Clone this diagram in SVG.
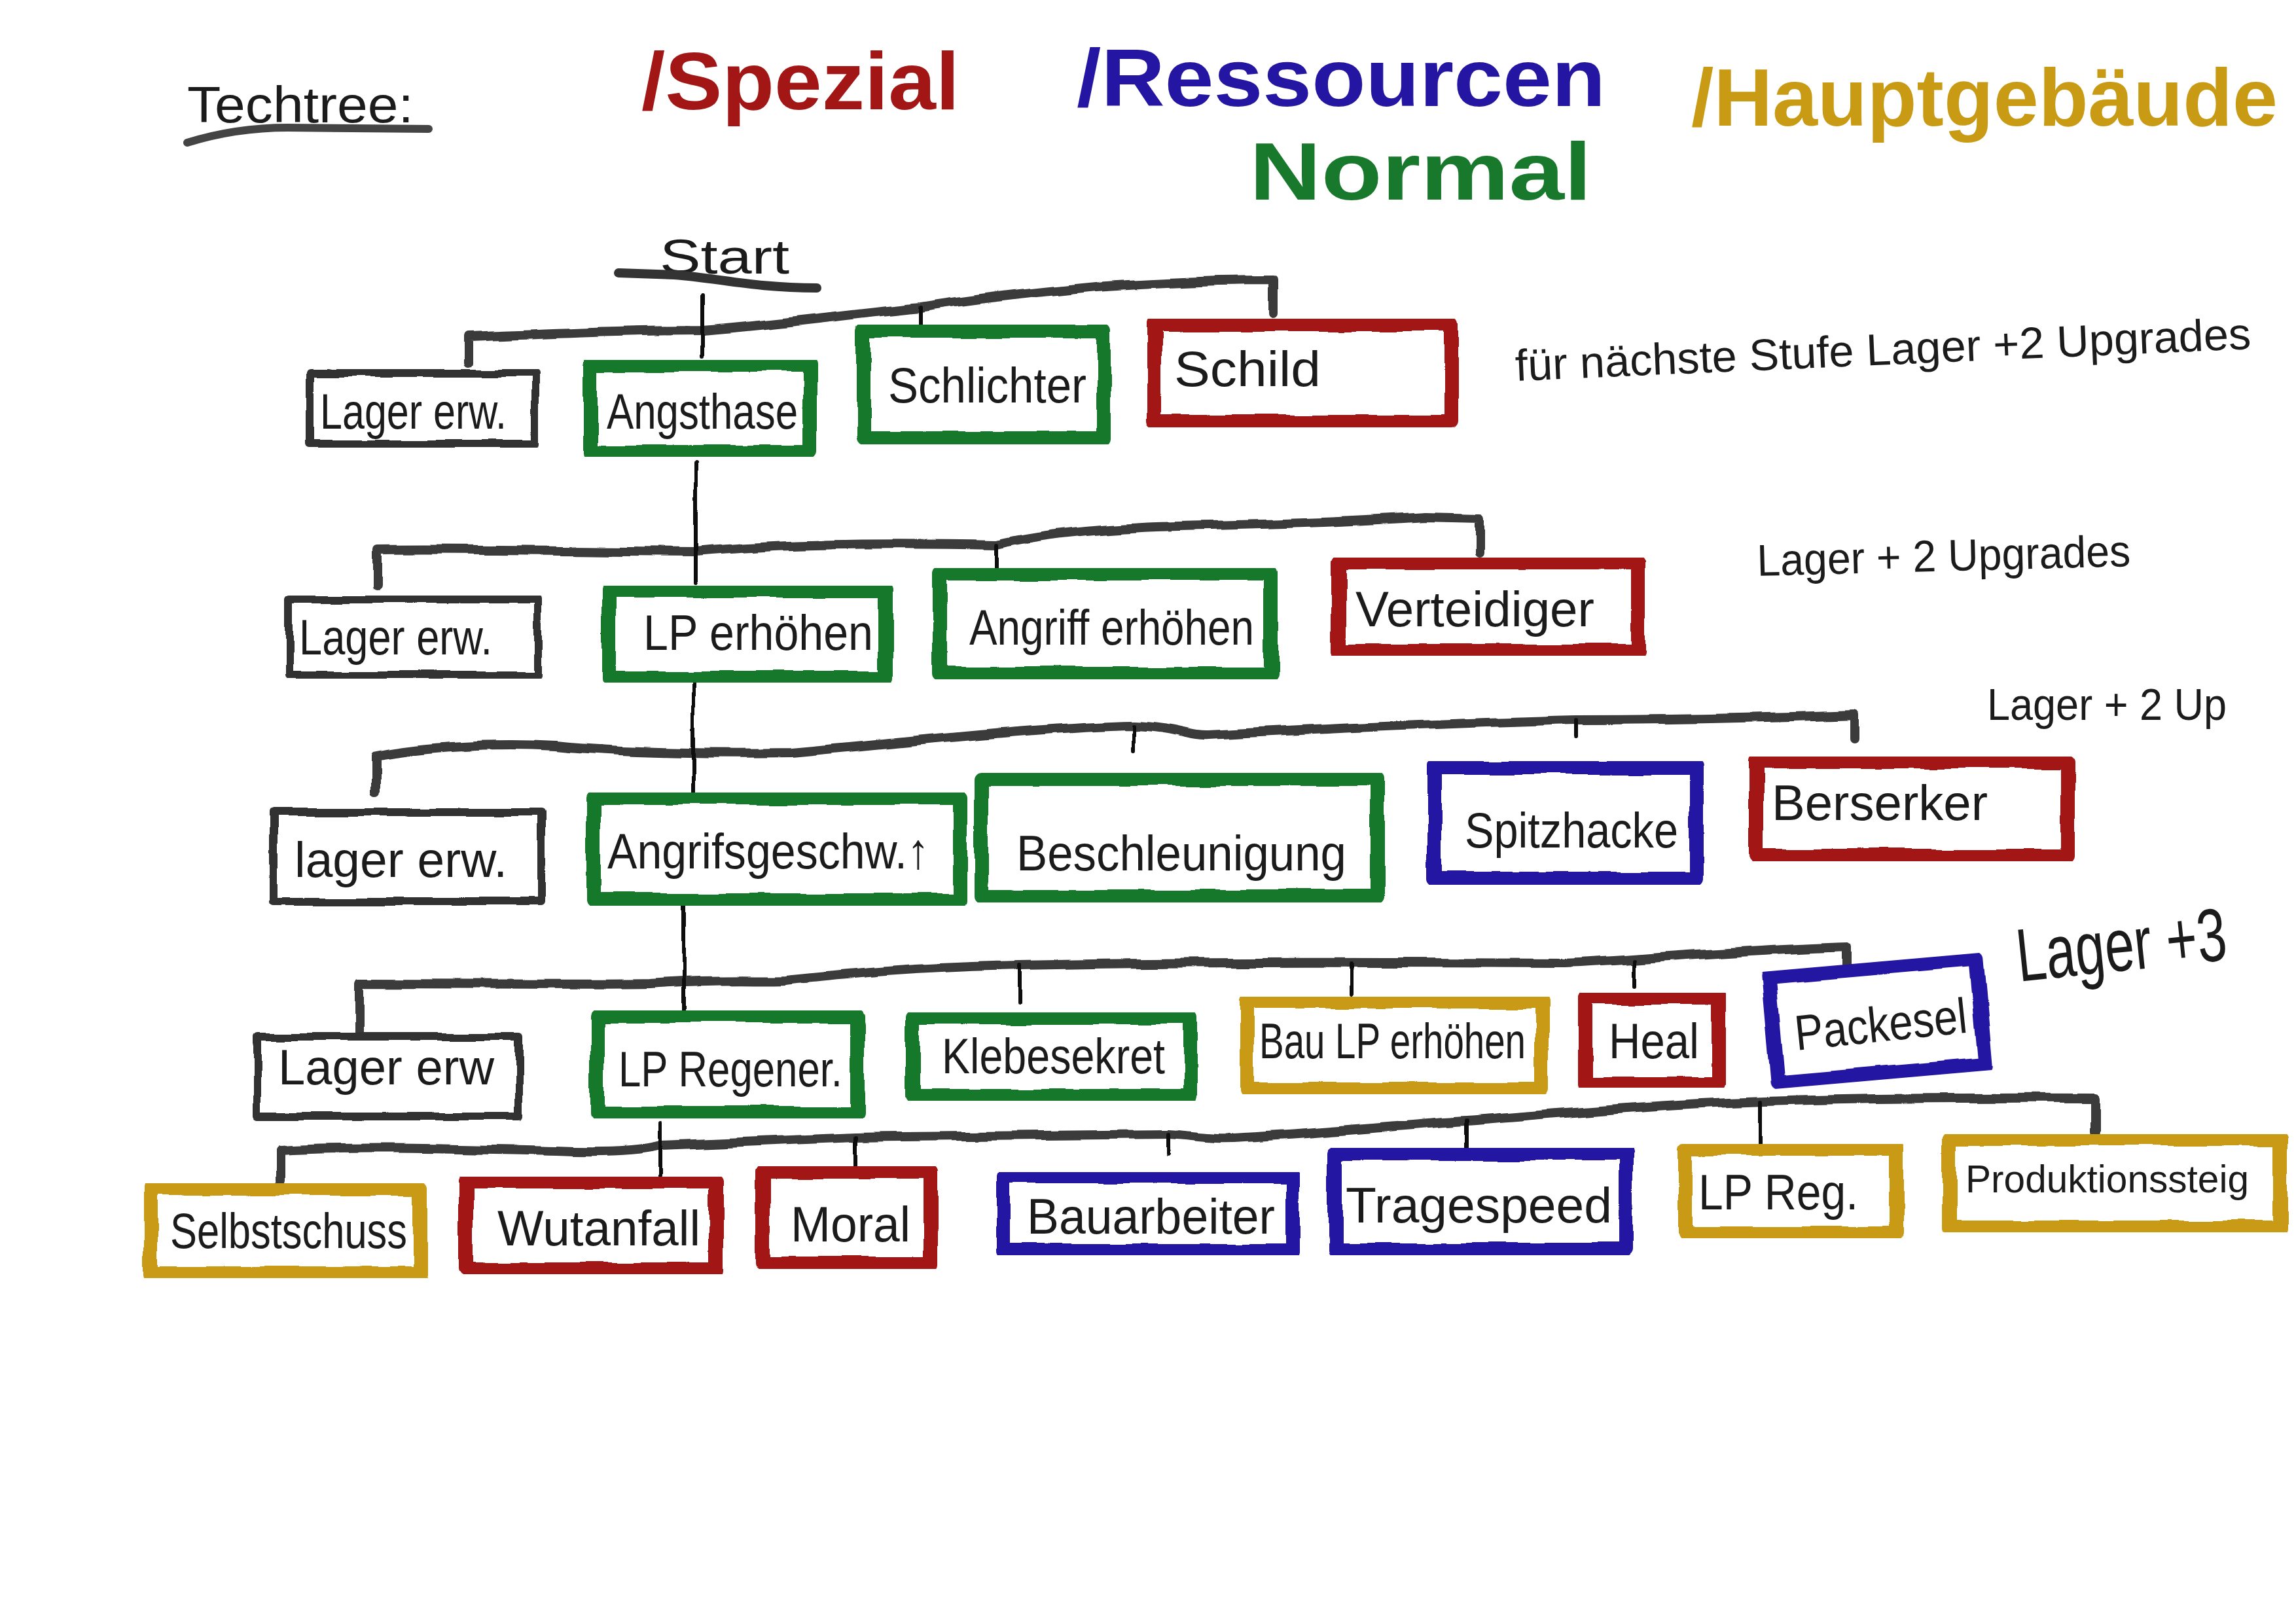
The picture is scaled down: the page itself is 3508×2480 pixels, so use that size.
<svg xmlns="http://www.w3.org/2000/svg" width="3508" height="2480" viewBox="0 0 3508 2480">
<defs>
<filter id="rough" x="-5%" y="-5%" width="110%" height="110%">
<feTurbulence type="fractalNoise" baseFrequency="0.015" numOctaves="2" seed="4"/>
<feDisplacementMap in="SourceGraphic" scale="10" xChannelSelector="R" yChannelSelector="G"/>
</filter>
<style>
.hand{font-family:"Liberation Sans",Arial,sans-serif;fill:#1b1b1b}
.lbl{font-size:76px}
.ann{font-size:68px}
.hdr{font-size:124px;font-weight:bold}
.box{fill:none;stroke-linejoin:round}
.k{stroke:#333;stroke-width:12}
.g{stroke:#18782c;stroke-width:22}
.r{stroke:#a31616;stroke-width:22}
.b{stroke:#2416a2;stroke-width:22}
.y{stroke:#c99a14;stroke-width:22}
.bus{fill:none;stroke:#3a3a3a;stroke-width:14;stroke-linecap:round;stroke-linejoin:round}
.drop{fill:none;stroke:#111;stroke-width:6;stroke-linecap:round}
</style>
</defs>
<rect width="3508" height="2480" fill="#fff"/>

<g id="title">
<text class="hand" x="286" y="187" font-size="78" textLength="346" lengthAdjust="spacingAndGlyphs">Techtree:</text>
<path d="M286,218 Q360,195 440,195 L655,197" fill="none" stroke="#444" stroke-width="12" stroke-linecap="round"/>
</g>
<g id="legend">
<text class="hand hdr" x="980" y="167" style="fill:#a31616" textLength="486" lengthAdjust="spacingAndGlyphs">/Spezial</text>
<text class="hand hdr" x="1645" y="162" style="fill:#2416a2" textLength="808" lengthAdjust="spacingAndGlyphs">/Ressourcen</text>
<text class="hand hdr" x="2584" y="192" style="fill:#c99a14" textLength="896" lengthAdjust="spacingAndGlyphs">/Hauptgebäude</text>
<text class="hand hdr" x="1909" y="305" style="fill:#18782c" textLength="523" lengthAdjust="spacingAndGlyphs">Normal</text>
</g>

<g id="start">
<text class="hand" x="1008" y="418" font-size="74" textLength="198" lengthAdjust="spacingAndGlyphs">Start</text>
<path d="M945,417 L1030,420 C1100,425 1150,440 1248,440" fill="none" stroke="#333" stroke-width="14" stroke-linecap="round"/>
</g>

<g id="annotations">
<text class="hand ann" x="2316" y="582" transform="rotate(-2.5 2316 582)" textLength="1125" lengthAdjust="spacingAndGlyphs">für nächste Stufe Lager +2 Upgrades</text>
<text class="hand ann" x="2685" y="880" transform="rotate(-1.5 2685 880)" textLength="571" lengthAdjust="spacingAndGlyphs">Lager + 2 Upgrades</text>
<text class="hand ann" x="3036" y="1100" textLength="366" lengthAdjust="spacingAndGlyphs">Lager + 2 Up</text>
<text class="hand" x="0" y="0" font-size="82" transform="translate(3085 1500) rotate(-6) scale(1 1.4)" textLength="322" lengthAdjust="spacingAndGlyphs">Lager +3</text>
</g>

<g id="connectors" filter="url(#rough)">
<path class="bus" d="M715,555 L715,515 C850,510 950,505 1073,505 C1200,495 1300,480 1406,470 C1500,455 1600,445 1673,438 C1800,430 1900,428 1945,428 L1945,478"/>
<path class="drop" d="M1073,452 L1073,545"/>
<path class="drop" d="M1406,470 L1406,505"/>

<path class="bus" d="M576,895 L576,840 C700,838 900,842 1063,843 C1150,835 1300,828 1523,833 C1600,815 1700,805 1850,803 C2000,800 2100,795 2176,790 L2260,792 L2260,845"/>
<path class="drop" d="M1063,705 L1063,890"/>
<path class="drop" d="M1523,833 L1523,868"/>

<path class="bus" d="M574,1210 L574,1155 C650,1140 760,1135 850,1140 C950,1150 1100,1152 1209,1150 C1400,1133 1600,1110 1732,1108 C1800,1110 1820,1125 1847,1123 C2000,1115 2200,1105 2408,1100 C2600,1100 2750,1095 2832,1092 L2832,1128"/>
<path class="drop" d="M1059,1040 L1059,1212"/>
<path class="drop" d="M1732,1108 L1732,1150"/>
<path class="drop" d="M2408,1100 L2408,1125"/>

<path class="bus" d="M549,1580 L549,1503 C700,1503 900,1505 994,1503 C1100,1495 1168,1500 1200,1498 C1300,1488 1400,1478 1558,1475 C1800,1470 2000,1470 2389,1472 C2500,1468 2600,1455 2823,1447 L2823,1480"/>
<path class="drop" d="M1045,1385 L1045,1553"/>
<path class="drop" d="M1558,1475 L1558,1530"/>
<path class="drop" d="M2065,1472 L2065,1520"/>
<path class="drop" d="M2500,1468 L2500,1507"/>

<path class="bus" d="M427,1805 L427,1757 C550,1750 700,1755 850,1758 C950,1762 990,1755 1009,1750 C1150,1745 1250,1740 1309,1738 C1500,1735 1700,1733 1784,1733 C1830,1735 1850,1742 1900,1738 C2050,1730 2150,1718 2241,1713 C2350,1705 2450,1695 2600,1687 C2750,1680 2900,1677 3201,1678 L3201,1730"/>
<path class="drop" d="M1009,1715 L1009,1797"/>
<path class="drop" d="M1309,1738 L1309,1783"/>
<path class="drop" d="M1784,1733 L1784,1765"/>
<path class="drop" d="M2241,1713 L2241,1753"/>
<path class="drop" d="M2691,1684 L2691,1747"/>
</g>

<!-- Row 1 -->
<g id="n-lager-1"><rect class="box k" x="473" y="570" width="345" height="108" filter="url(#rough)"/><text class="hand lbl" x="489" y="655" textLength="285" lengthAdjust="spacingAndGlyphs">Lager erw.</text></g>
<g id="n-angsthase"><rect class="box g" x="901" y="557" width="337" height="134" filter="url(#rough)"/><text class="hand lbl" x="927" y="655" textLength="292" lengthAdjust="spacingAndGlyphs">Angsthase</text></g>
<g id="n-schlichter"><rect class="box g" x="1319" y="505" width="368" height="165" filter="url(#rough)"/><text class="hand lbl" x="1357" y="615" textLength="303" lengthAdjust="spacingAndGlyphs">Schlichter</text></g>
<g id="n-schild"><rect class="box r" x="1763" y="495" width="455" height="150" filter="url(#rough)"/><text class="hand lbl" x="1794" y="590" textLength="224" lengthAdjust="spacingAndGlyphs">Schild</text></g>

<!-- Row 2 -->
<g id="n-lager-2"><rect class="box k" x="442" y="916" width="380" height="115" filter="url(#rough)"/><text class="hand lbl" x="457" y="1000" textLength="295" lengthAdjust="spacingAndGlyphs">Lager erw.</text></g>
<g id="n-lp-erhoehen"><rect class="box g" x="930" y="902" width="422" height="134" filter="url(#rough)"/><text class="hand lbl" x="983" y="993" textLength="351" lengthAdjust="spacingAndGlyphs">LP erhöhen</text></g>
<g id="n-angriff-erhoehen"><rect class="box g" x="1435" y="876" width="506" height="154" filter="url(#rough)"/><text class="hand lbl" x="1481" y="985" textLength="435" lengthAdjust="spacingAndGlyphs">Angriff erhöhen</text></g>
<g id="n-verteidiger"><rect class="box r" x="2046" y="859" width="457" height="136" filter="url(#rough)"/><text class="hand lbl" x="2071" y="957" textLength="365" lengthAdjust="spacingAndGlyphs">Verteidiger</text></g>

<!-- Row 3 -->
<g id="n-lager-3"><rect class="box k" x="418" y="1240" width="409" height="138" filter="url(#rough)"/><text class="hand lbl" x="450" y="1340" textLength="325" lengthAdjust="spacingAndGlyphs">lager erw.</text></g>
<g id="n-angriffsgeschw"><rect class="box g" x="907" y="1219" width="560" height="157" filter="url(#rough)"/><text class="hand lbl" x="928" y="1327" textLength="492" lengthAdjust="spacingAndGlyphs">Angrifsgeschw.↑</text></g>
<g id="n-beschleunigung"><rect class="box g" x="1500" y="1190" width="605" height="180" filter="url(#rough)"/><text class="hand lbl" x="1553" y="1330" textLength="504" lengthAdjust="spacingAndGlyphs">Beschleunigung</text></g>
<g id="n-spitzhacke"><rect class="box b" x="2192" y="1172" width="400" height="171" filter="url(#rough)"/><text class="hand lbl" x="2238" y="1295" textLength="326" lengthAdjust="spacingAndGlyphs">Spitzhacke</text></g>
<g id="n-berserker"><rect class="box r" x="2683" y="1164" width="476" height="144" filter="url(#rough)"/><text class="hand lbl" x="2707" y="1253" textLength="330" lengthAdjust="spacingAndGlyphs">Berserker</text></g>

<!-- Row 4 -->
<g id="n-lager-4"><rect class="box k" x="393" y="1584" width="400" height="122" filter="url(#rough)"/><text class="hand lbl" x="425" y="1657" textLength="330" lengthAdjust="spacingAndGlyphs">Lager erw</text></g>
<g id="n-lp-regener"><rect class="box g" x="912" y="1552" width="398" height="149" filter="url(#rough)"/><text class="hand lbl" x="945" y="1660" textLength="342" lengthAdjust="spacingAndGlyphs">LP Regener.</text></g>
<g id="n-klebesekret"><rect class="box g" x="1395" y="1554" width="424" height="121" filter="url(#rough)"/><text class="hand lbl" x="1439" y="1640" textLength="341" lengthAdjust="spacingAndGlyphs">Klebesekret</text></g>
<g id="n-bau-lp"><rect class="box y" x="1905" y="1530" width="451" height="135" filter="url(#rough)"/><text class="hand lbl" x="1924" y="1617" textLength="407" lengthAdjust="spacingAndGlyphs">Bau LP erhöhen</text></g>
<g id="n-heal"><rect class="box r" x="2422" y="1524" width="204" height="131" filter="url(#rough)"/><text class="hand lbl" x="2458" y="1617" textLength="138" lengthAdjust="spacingAndGlyphs">Heal</text></g>
<g id="n-packesel"><rect class="box b" x="2709" y="1479" width="318" height="162" transform="rotate(-5 2868 1560)" filter="url(#rough)"/><text class="hand lbl" x="2745" y="1605" transform="rotate(-6 2745 1605)" textLength="264" lengthAdjust="spacingAndGlyphs">Packesel</text></g>

<!-- Row 5 -->
<g id="n-selbstschuss"><rect class="box y" x="230" y="1815" width="411" height="131" filter="url(#rough)"/><text class="hand lbl" x="260" y="1907" textLength="362" lengthAdjust="spacingAndGlyphs">Selbstschuss</text></g>
<g id="n-wutanfall"><rect class="box r" x="712" y="1805" width="382" height="135" filter="url(#rough)"/><text class="hand lbl" x="760" y="1903" textLength="310" lengthAdjust="spacingAndGlyphs">Wutanfall</text></g>
<g id="n-moral"><rect class="box r" x="1166" y="1790" width="255" height="141" filter="url(#rough)"/><text class="hand lbl" x="1208" y="1897" textLength="183" lengthAdjust="spacingAndGlyphs">Moral</text></g>
<g id="n-bauarbeiter"><rect class="box b" x="1533" y="1797" width="441" height="115" filter="url(#rough)"/><text class="hand lbl" x="1569" y="1885" textLength="379" lengthAdjust="spacingAndGlyphs">Bauarbeiter</text></g>
<g id="n-tragespeed"><rect class="box b" x="2040" y="1762" width="445" height="148" filter="url(#rough)"/><text class="hand lbl" x="2056" y="1868" textLength="407" lengthAdjust="spacingAndGlyphs">Tragespeed</text></g>
<g id="n-lp-reg"><rect class="box y" x="2574" y="1755" width="323" height="130" filter="url(#rough)"/><text class="hand lbl" x="2595" y="1848" textLength="244" lengthAdjust="spacingAndGlyphs">LP Reg.</text></g>
<g id="n-produktionssteig"><rect class="box y" x="2979" y="1740" width="505" height="136" filter="url(#rough)"/><text class="hand" font-size="60" x="3003" y="1822" textLength="433" lengthAdjust="spacingAndGlyphs">Produktionssteig</text></g>
</svg>
